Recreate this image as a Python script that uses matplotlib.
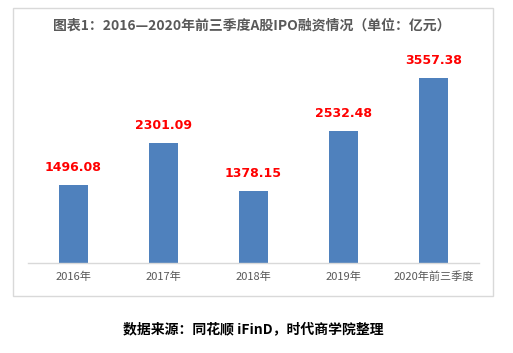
import matplotlib.pyplot as plt
from matplotlib.patches import Rectangle
import numpy as np

plt.rcParams['font.family'] = ['Noto Sans CJK SC', 'DejaVu Sans']

# 数据
categories = ["2016年", "2017年", "2018年", "2019年", "2020年前三季度"]
values = [1496.08, 2301.09, 1378.15, 2532.48, 3557.38]
title = "图表1：2016—2020年前三季度A股IPO融资情况（单位：亿元）"
source = "数据来源：同花顺 iFinD，时代商学院整理"

fig = plt.figure(figsize=(5.13, 3.53), dpi=100)

# 外框
fig.patches.append(Rectangle((13 / 513, 1 - 296 / 353), 480 / 513, 288 / 353,
                             transform=fig.transFigure, fill=False,
                             edgecolor="#d9d9d9", linewidth=1.0))

ax = fig.add_axes([28 / 513, 1 - 263 / 353, 451 / 513, 208 / 353])
x = np.arange(len(categories))
ax.bar(x, values, width=0.32, color="#4f81bd")
for xi, v in zip(x, values):
    ax.text(xi, v + 210, f"{v:.2f}", ha="center", va="bottom", color="red",
            fontsize=9, fontweight="bold", family="DejaVu Sans")

ax.set_xlim(-0.5, len(categories) - 0.5)
ax.set_ylim(0, 4000)
ax.set_xticks(x)
ax.set_xticklabels(categories, fontsize=8, color="#595959")
ax.tick_params(axis="x", length=0, pad=6)
ax.set_yticks([])
for s in ["top", "right", "left"]:
    ax.spines[s].set_visible(False)
ax.spines["bottom"].set_color("#d9d9d9")
ax.spines["bottom"].set_linewidth(1.0)

fig.text(252 / 513, 1 - 26 / 353, title, ha="center", va="center",
         fontsize=10, fontweight="bold", color="#595959")
fig.text(253 / 513, 1 - 329 / 353, source, ha="center", va="center",
         fontsize=10, fontweight="bold", color="black")

fig.savefig("out.png", dpi=100)
